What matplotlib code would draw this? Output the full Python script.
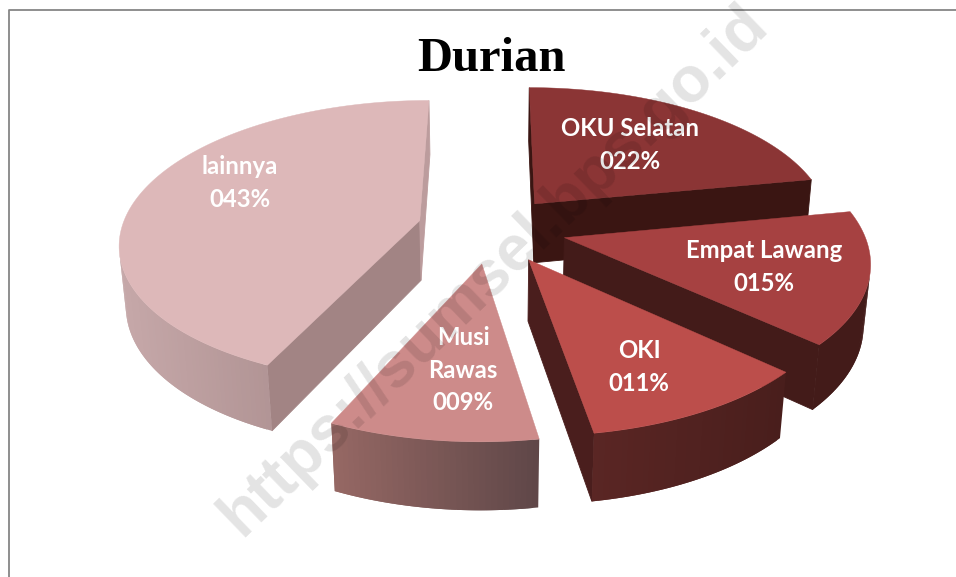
import numpy as np
import matplotlib
matplotlib.use('Agg')
import matplotlib.pyplot as plt
from matplotlib.colors import to_rgb
from matplotlib.patches import Polygon

# data, printed as whole percents on the slices
names = ['OKU Selatan', 'Empat Lawang', 'OKI', 'Musi\nRawas', 'lainnya']
values = [22.0, 14.8, 10.6, 9.4, 43.2]

# style per slice
top_colors = ['#8B3535', '#A64141', '#BC4E4B', '#CD8B8A', '#DDB8B9']
start_face = ['#3A1512', '#431B19', '#431B19', '#5F4748', '#A28484']
end_face = ['#3A1512', '#431B19', '#4A1E1D', '#966864', '#BC9C9D']
wall_left = ['#3A1512', '#431B19', '#5A2624', '#966864', '#C6A8A9']
wall_right = ['#3A1512', '#431B19', '#491E1C', '#5F4748', '#9C8080']
label_pos = [(630, 145), (764, 267), (639, 367), (463, 370), (240, 183)]
explode = [0.23, 0.25, 0.25, 0.25, 0.25]
draw_order = [0, 4, 1, 2, 3]

# camera
cx, cy = 492, 228
el = np.radians(28)
dist = 6.0
scale = 298
height = 0.232
cam = np.array([0, -dist * np.cos(el), dist * np.sin(el)])


def project(x, y, z):
    v = y * np.sin(el) + z * np.cos(el)
    d = dist + y * np.cos(el) - z * np.sin(el)
    s = scale * dist / d
    return cx + x * s, cy - v * s


def facing(normal, point):
    return np.dot(normal, cam - point) > 0


def quad(ax, p1, p2, color, z, lw=0):
    xs1, ys1 = project(p1[0], p1[1], 0)
    xs2, ys2 = project(p2[0], p2[1], 0)
    xb2, yb2 = project(p2[0], p2[1], -height)
    xb1, yb1 = project(p1[0], p1[1], -height)
    ax.add_patch(Polygon([(xs1, ys1), (xs2, ys2), (xb2, yb2), (xb1, yb1)],
                         closed=True, fc=color, ec=color if lw else 'none', lw=lw, zorder=z))


fig = plt.figure(figsize=(9.56, 5.77), dpi=100)
ax = fig.add_axes([0, 0, 1, 1])
ax.set_xlim(0, 956)
ax.set_ylim(577, 0)
ax.axis('off')

# chart frame, right and bottom run off the picture
ax.plot([9.5, 9.5, 956], [577, 10, 10], color='#868686', lw=1.3, zorder=1)

shares = np.array(values) / sum(values)
edges = np.concatenate([[0], np.cumsum(shares)]) * 2 * np.pi

z = 2
for i in draw_order:
    a, b = edges[i], edges[i + 1]
    mid = (a + b) / 2
    apex = np.array([explode[i] * np.sin(mid), explode[i] * np.cos(mid)])
    theta = np.linspace(a, b, int((b - a) * 60) + 2)
    xr = apex[0] + np.sin(theta)
    yr = apex[1] + np.cos(theta)

    # cut faces
    n_start = np.array([np.sin(a - np.pi / 2), np.cos(a - np.pi / 2), 0])
    n_end = np.array([np.sin(b + np.pi / 2), np.cos(b + np.pi / 2), 0])
    if facing(n_start, np.array([apex[0], apex[1], 0])):
        quad(ax, apex, (xr[0], yr[0]), start_face[i], z, lw=0.6)
    if facing(n_end, np.array([apex[0], apex[1], 0])):
        quad(ax, apex, (xr[-1], yr[-1]), end_face[i], z, lw=0.6)
    z += 1

    # outer wall, shaded from left to right on the screen
    # each strip overlaps the next one so no seams show
    sx, sy = project(xr, yr, 0)
    c1, c2 = np.array(to_rgb(wall_left[i])), np.array(to_rgb(wall_right[i]))
    x_lo, x_hi = sx.min(), sx.max()
    for k in range(len(theta) - 1):
        tm = (theta[k] + theta[k + 1]) / 2
        pm = np.array([apex[0] + np.sin(tm), apex[1] + np.cos(tm), 0])
        if not facing(np.array([np.sin(tm), np.cos(tm), 0]), pm):
            continue
        t = ((sx[k] + sx[k + 1]) / 2 - x_lo) / max(x_hi - x_lo, 1)
        k2 = min(k + 2, len(theta) - 1)
        quad(ax, (xr[k], yr[k]), (xr[k2], yr[k2]), tuple(c1 + (c2 - c1) * t), z)
    z += 1

    # top face
    top_x = np.concatenate([[apex[0]], xr])
    top_y = np.concatenate([[apex[1]], yr])
    px, py = project(top_x, top_y, 0)
    ax.add_patch(Polygon(np.column_stack([px, py]), closed=True, fc=top_colors[i],
                         ec=top_colors[i], lw=0.3, zorder=z))
    z += 1

for name, val, pos in zip(names, values, label_pos):
    ax.text(pos[0], pos[1], '%s\n%03.0f%%' % (name, val), ha='center', va='center',
            color='white', fontsize=17.2, fontweight='bold', family='Lato',
            linespacing=1.5, zorder=50)

ax.text(491, 71, 'Durian', ha='center', va='baseline', color='black', fontsize=35,
        fontweight='bold', family='Liberation Serif', zorder=50)

# watermark
ax.text(494, 270, 'https://sumsel.bps.go.id', ha='center', va='center', rotation=44,
        rotation_mode='anchor', color='black', alpha=0.11, fontsize=46, fontweight='bold',
        family='Liberation Sans', zorder=60, clip_on=True)

fig.savefig('out.png', dpi=100, facecolor='white')
